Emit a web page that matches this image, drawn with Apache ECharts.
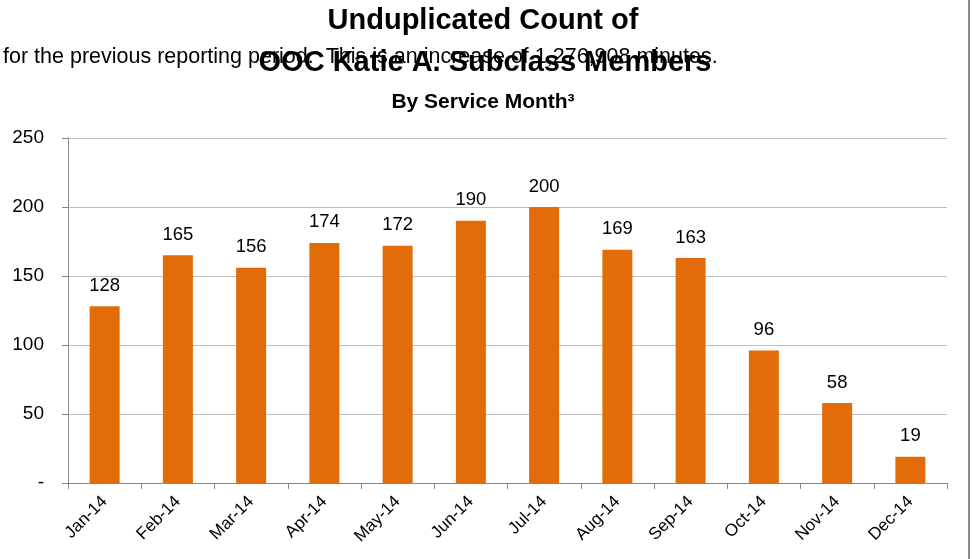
<!DOCTYPE html>
<html>
<head>
<meta charset="utf-8">
<script src="https://cdn.jsdelivr.net/npm/echarts@6/dist/echarts.min.js"></script>
<style>
    html, body { margin: 0; padding: 0; background: #fff; }
    #chart { width: 972px; height: 559px; }
</style>
</head>
<body>
<div id="chart"></div>
<script>
    // data
    const months = ['Jan-14', 'Feb-14', 'Mar-14', 'Apr-14', 'May-14', 'Jun-14',
                    'Jul-14', 'Aug-14', 'Sep-14', 'Oct-14', 'Nov-14', 'Dec-14'];
    const members = [128, 165, 156, 174, 172, 190, 200, 169, 163, 96, 58, 19];
    const yTicks = [0, 50, 100, 150, 200, 250];

    const font = 'Liberation Sans';
    const myChart = echarts.init(document.getElementById('chart'));

    let option = {
        animation: false,
        backgroundColor: '#fff',
        graphic: [
            {
                type: 'text', x: 3, y: 57,
                style: { text: 'for the previous reporting period.  This is an increase of 1,276,908 minutes.',
                         font: '21.5px ' + font, fill: '#000', verticalAlign: 'middle' }
            },
            {
                type: 'text', x: 483, y: 21,
                style: { text: 'Unduplicated Count of', font: 'bold 29px ' + font,
                         fill: '#000', align: 'center', verticalAlign: 'middle' }
            },
            {
                type: 'text', x: 485, y: 63,
                style: { text: 'OOC Katie A. Subclass Members', font: 'bold 29px ' + font,
                         fill: '#000', align: 'center', verticalAlign: 'middle' }
            },
            {
                type: 'text', x: 483, y: 102,
                style: { text: 'By Service Month³', font: 'bold 21px ' + font,
                         fill: '#000', align: 'center', verticalAlign: 'middle' }
            },
            {
                type: 'line',
                shape: { x1: 969, y1: 0, x2: 969, y2: 559 },
                style: { stroke: '#8c8c8c', lineWidth: 2 }
            }
        ],
        grid: {
            left: 68,
            right: 25,
            top: 138,
            bottom: 76
        },
        xAxis: {
            type: 'category',
            data: months,
            axisLine: { lineStyle: { color: '#868686', width: 1 } },
            axisTick: { show: true, length: 6, lineStyle: { color: '#868686' } },
            axisLabel: {
                rotate: 45,
                color: '#000',
                fontFamily: font,
                fontSize: 17,
                margin: 16
            }
        },
        yAxis: {
            type: 'value',
            min: yTicks[0],
            max: yTicks[yTicks.length - 1],
            interval: yTicks[1] - yTicks[0],
            axisLine: { show: true, lineStyle: { color: '#868686' } },
            axisTick: { show: true, length: 6, lineStyle: { color: '#868686' } },
            axisLabel: {
                color: '#000',
                fontFamily: font,
                fontSize: 19,
                margin: 24,
                formatter: function (v) {
                    return v === 0 ? '-' : String(v);
                }
            },
            splitLine: { lineStyle: { color: '#bfbfbf' } }
        },
        series: [
            {
                type: 'bar',
                data: members,
                barWidth: 30,
                itemStyle: { color: '#e36c0a' },
                label: {
                    show: true,
                    position: 'top',
                    distance: 11,
                    color: '#000',
                    fontFamily: font,
                    fontSize: 18.5
                }
            }
        ]
    };

    myChart.setOption(option);
</script>
</body>
</html>
